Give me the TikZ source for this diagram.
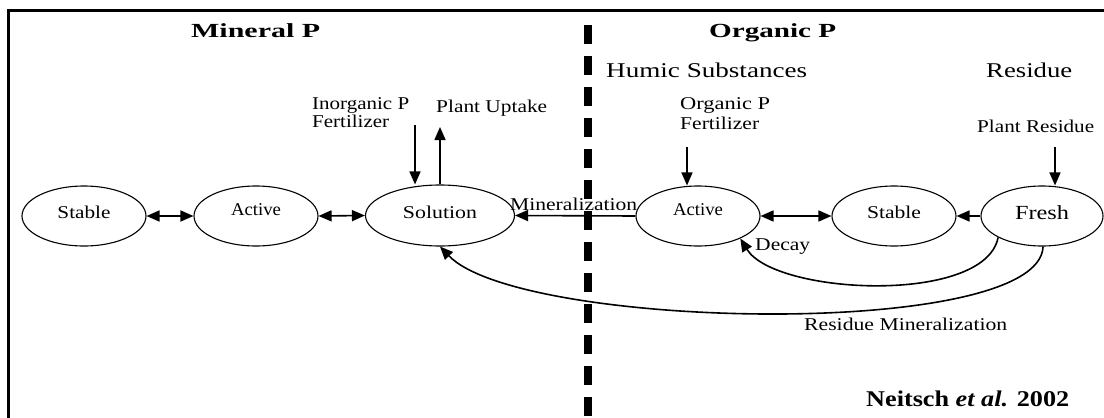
\documentclass[tikz,border=0pt]{standalone}
\usepackage{fontspec}
\setmainfont{Liberation Serif}
\usepackage{graphicx}
\usetikzlibrary{arrows.meta,shapes.geometric}
\newcommand{\fitw}[3]{\resizebox{#1pt}{\height}{\fontsize{#2}{#2}\selectfont #3}}
\begin{document}
\begin{tikzpicture}[x=1pt,y=-1pt,
  pool/.style={draw, line width=1.1pt, ellipse, minimum width=124pt, minimum height=60pt, inner sep=0pt},
  lbl/.style={inner sep=0pt, anchor=base west},
  conn/.style={line width=1.6pt, -{Triangle[length=13pt,width=11pt]}},
  bi/.style={line width=1.6pt, {Triangle[length=13pt,width=11pt]}-{Triangle[length=13pt,width=11pt]}},
  frame/.style={line width=3pt},
  divider/.style={line width=8pt, dash pattern=on 19pt off 12pt}
]
\useasboundingbox (0,0) rectangle (1104,418);
% frame
\draw[frame] (1104,10.5) -- (8,10.5) -- (8,418);
% divider
\draw[divider] (587.5,25) -- (587.5,418);

% titles
\node[lbl] (tmin) at (191,37) {\fitw{129}{20}{\bfseries Mineral P}};
\node[lbl] (torg) at (709,37) {\fitw{127}{20}{\bfseries Organic P}};
\node[lbl] (thum) at (606,77) {\fitw{201}{21}{Humic Substances}};
\node[lbl] (tres) at (986,77) {\fitw{86}{21}{Residue}};

% pools
\node[pool, text height=10pt, text depth=6pt] (stableA) at (84,216) {\fitw{53}{18}{Stable}};
\node[pool, text height=7pt, text depth=9pt] (activeA) at (256,216) {\fitw{50}{18}{Active}};
\node[pool, minimum width=149pt, minimum height=61pt, text height=10pt, text depth=5pt] (solution) at (440,215.5) {\fitw{74}{18}{Solution}};
\node[pool, text height=7pt, text depth=9pt] (activeB) at (698,216) {\fitw{50}{18}{Active}};
\node[pool, text height=10pt, text depth=6pt] (stableB) at (894,216) {\fitw{54}{18}{Stable}};
\node[pool, minimum width=122pt, text height=11pt, text depth=5pt] (fresh) at (1042,216) {\fitw{54}{20}{Fresh}};

% inputs / outputs labels
\node[inner sep=0pt, anchor=north west, align=left, font=\fontsize{18}{18}\selectfont] (inorg) at (312,97.5) {\fitw{97}{18}{Inorganic P}\\\fitw{77}{18}{Fertilizer}};
\node[lbl] (uptake) at (436,112) {\fitw{111}{18}{Plant Uptake}};
\node[inner sep=0pt, anchor=north west, align=left, font=\fontsize{18}{18}\selectfont] (orgfert) at (680,97.5) {\fitw{90}{18}{Organic P}\\[2pt]\fitw{79}{18}{Fertilizer}};
\node[lbl] (plres) at (977,132) {\fitw{117}{18}{Plant Residue}};

% free ends
\coordinate (inorgtop) at (415,125);
\coordinate (uptop) at (440,127);
\coordinate (orgtop) at (687,147);
\coordinate (restop) at (1055,147);

% connectors
\draw[bi] (stableA.east) -- (activeA.west);
\draw[bi] (activeA.east) -- (solution.west);
\draw[bi] (activeB.east) -- (stableB.west);
\draw[conn] (fresh.west) -- (stableB.east);
\draw[conn] (activeB.west) -- (solution.east);
\draw[conn] (inorgtop) -- (inorgtop |- solution.north);
\draw[conn] (solution.north) -- (uptop);
\draw[conn] (orgtop) -- (orgtop |- activeB.north);
\draw[conn] (restop) -- (restop |- fresh.north);
\draw[conn] (fresh.-154) .. controls (985,305) and (775,295) .. (activeB.-28);
\draw[conn] (fresh.-88) .. controls (1040,340) and (520,330) .. (solution.south);

% edge labels
\node[lbl] (lmin) at (510,210) {\fitw{127}{18}{Mineralization}};
\node[lbl] (ldecay) at (755,250) {\fitw{55}{18}{Decay}};
\node[lbl] (lresmin) at (804,330) {\fitw{203}{18}{Residue Mineralization}};

% citation
\node[lbl] (cite) at (866,406) {\fitw{203}{22.5}{\bfseries Neitsch \textit{et al.} 2002}};
\end{tikzpicture}
\end{document}
